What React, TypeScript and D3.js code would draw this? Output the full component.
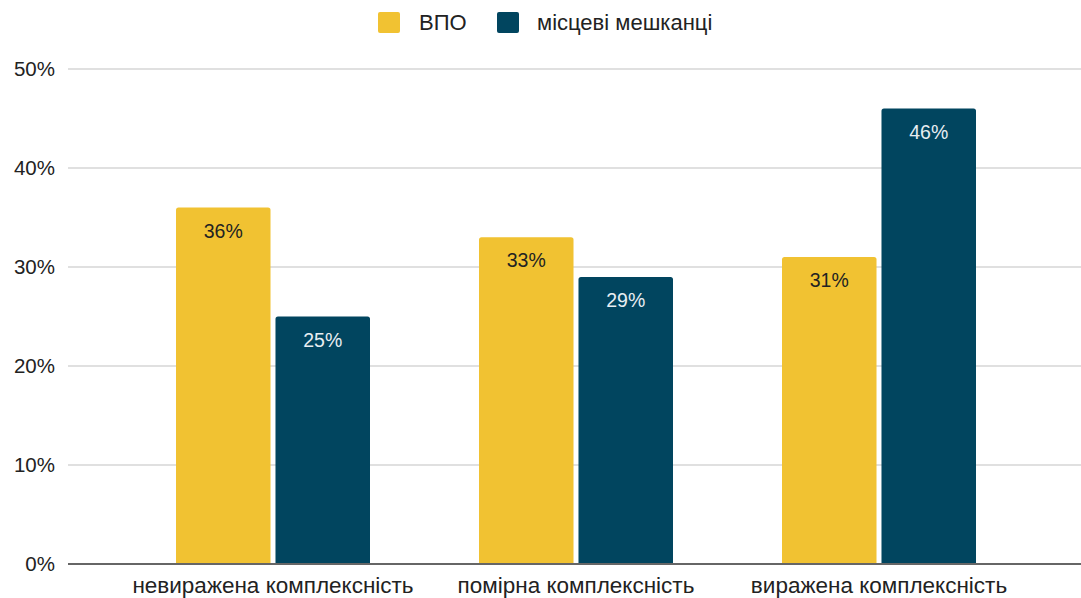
import React from 'react';
import * as d3 from 'd3';

const categories = ['невиражена комплексність', 'помірна комплексність', 'виражена комплексність'];
const seriesNames = ['ВПО', 'місцеві мешканці'];
const vpoValues = [36, 33, 31];
const localValues = [25, 29, 46];
const yTicks = [0, 10, 20, 30, 40, 50];

const colors = ['#f1c232', '#01455f'];
const labelColors = ['#222222', '#e8eef2'];

const width = 1081;
const height = 598;
const font = '"Liberation Sans", Arial, sans-serif';

/**
 * Grouped bar chart: ВПО vs місцеві мешканці
 */
const App: React.FC = () => {
  const x = d3.scaleBand<string>()
    .domain(categories)
    .range([121.5, 1030.5])
    .padding(0);

  const inner = d3.scaleBand<string>()
    .domain(seriesNames)
    .range([54.5, 248.5])
    .paddingInner(0.05);

  const y = d3.scaleLinear().domain([0, 50]).range([564, 69]);

  const series = [vpoValues, localValues];

  // bar path with slightly rounded top corners
  const barPath = (x0: number, w: number, top: number, bottom: number) => {
    const r = 2.5;
    const p = d3.path();
    p.moveTo(x0, bottom);
    p.lineTo(x0, top + r);
    p.quadraticCurveTo(x0, top, x0 + r, top);
    p.lineTo(x0 + w - r, top);
    p.quadraticCurveTo(x0 + w, top, x0 + w, top + r);
    p.lineTo(x0 + w, bottom);
    p.closePath();
    return p.toString();
  };

  return (
    <div style={{ position: 'absolute', left: 0, top: 0 }}>
      <svg width={width} height={height} style={{ display: 'block', background: '#ffffff' }}>
        {/* legend */}
        <g fontFamily={font} fontSize={22} fill="#222">
          <rect x={378} y={12} width={22} height={21} rx={2} fill={colors[0]} />
          <text x={419} y={30}>{seriesNames[0]}</text>
          <rect x={497} y={12} width={22} height={21} rx={2} fill={colors[1]} />
          <text x={537} y={30}>{seriesNames[1]}</text>
        </g>

        {/* gridlines + y axis labels */}
        <g fontFamily={font} fontSize={20.5} fill="#222">
          {yTicks.map(t => (
            <g key={t}>
              {t > 0 && (
                <line x1={68} x2={width} y1={y(t)} y2={y(t)} stroke="#d6d6d6" strokeWidth={1.5} />
              )}
              <text x={55} y={y(t)} dy="0.36em" textAnchor="end">{`${t}%`}</text>
            </g>
          ))}
        </g>

        {/* bars */}
        {categories.map((c, ci) => (
          <g key={c} transform={`translate(${x(c)},0)`}>
            {seriesNames.map((s, si) => {
              const v = series[si][ci];
              const bx = inner(s) as number;
              const bw = inner.bandwidth();
              return (
                <g key={s}>
                  <path d={barPath(bx, bw, y(v), y(0))} fill={colors[si]} />
                  <text
                    x={bx + bw / 2}
                    y={y(v) + 30}
                    textAnchor="middle"
                    fontFamily={font}
                    fontSize={19.5}
                    fill={labelColors[si]}
                  >
                    {`${v}%`}
                  </text>
                </g>
              );
            })}
          </g>
        ))}

        {/* baseline */}
        <line x1={68} x2={width} y1={y(0)} y2={y(0)} stroke="#666666" strokeWidth={2} />

        {/* category labels */}
        <g fontFamily={font} fontSize={22.5} fill="#222">
          {categories.map(c => (
            <text key={c} x={(x(c) as number) + x.bandwidth() / 2} y={593} textAnchor="middle">{c}</text>
          ))}
        </g>
      </svg>
    </div>
  );
};

export default App;
